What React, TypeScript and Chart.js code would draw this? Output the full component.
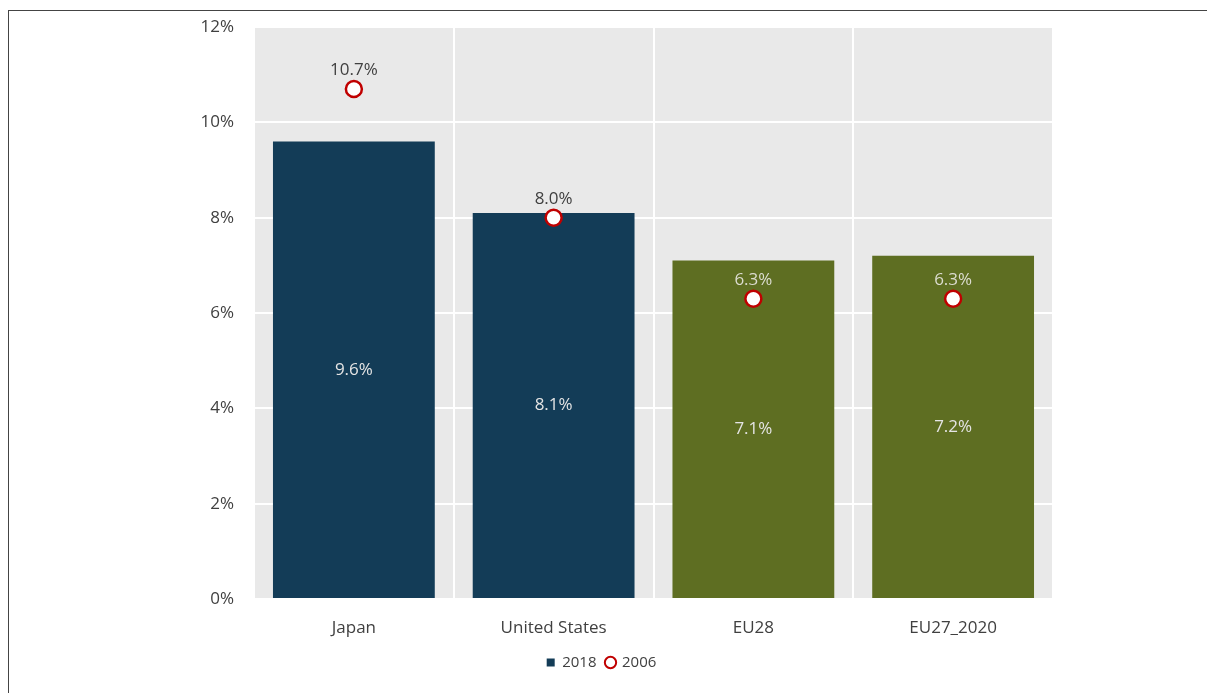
import React, { useEffect, useRef } from "react";
import { Chart, registerables } from "chart.js";

Chart.register(...registerables);

const categories = ["Japan", "United States", "EU28", "EU27_2020"];
const values2018 = [9.6, 8.1, 7.1, 7.2];
const values2006 = [10.7, 8.0, 6.3, 6.3];
const barColors = ["#133c57", "#133c57", "#5e6e22", "#5e6e22"];
const pointLabelColors = ["#404040", "#404040", "#dcdcd0", "#dcdcd0"];
const yTicks = [0, 2, 4, 6, 8, 10, 12];

const FONT = "'Open Sans', 'Noto Sans', sans-serif";

const bgPlugin = {
  id: "plotBg",
  beforeDraw(chart: any) {
    const { ctx, chartArea } = chart;
    ctx.save();
    ctx.fillStyle = "#e9e9e9";
    ctx.fillRect(chartArea.left, chartArea.top, chartArea.right - chartArea.left, chartArea.bottom - chartArea.top);
    ctx.restore();
  },
};

const labelPlugin = {
  id: "valueLabels",
  afterDatasetsDraw(chart: any) {
    const { ctx } = chart;
    ctx.save();
    ctx.font = `17px ${FONT}`;
    ctx.textAlign = "center";
    ctx.textBaseline = "middle";
    const barMeta = chart.getDatasetMeta(0);
    barMeta.data.forEach((el: any, i: number) => {
      const y = (el.y + el.base) / 2;
      ctx.fillStyle = "#e4e4e4";
      ctx.fillText(values2018[i].toFixed(1) + "%", el.x, y);
    });
    const ptMeta = chart.getDatasetMeta(1);
    ptMeta.data.forEach((el: any, i: number) => {
      ctx.fillStyle = pointLabelColors[i];
      ctx.fillText(values2006[i].toFixed(1) + "%", el.x, el.y - 19);
    });
    ctx.restore();
  },
};

export default function App() {
  const ref = useRef<HTMLCanvasElement | null>(null);
  useEffect(() => {
    if (!ref.current) return;
    const chart = new Chart(ref.current, {
      type: "bar",
      data: {
        labels: categories,
        datasets: [
          {
            type: "bar",
            label: "2018",
            data: values2018,
            backgroundColor: barColors,
            borderColor: barColors,
            borderWidth: 0,
            barPercentage: 0.81,
            categoryPercentage: 1,
            order: 1,
          } as any,
          {
            type: "line",
            label: "2006",
            data: values2006,
            showLine: false,
            pointRadius: 8,
            pointHoverRadius: 8,
            pointBorderWidth: 2.5,
            pointBackgroundColor: "#ffffff",
            pointBorderColor: "#c00000",
            order: 0,
          } as any,
        ],
      },
      options: {
        responsive: false,
        animation: false,
        devicePixelRatio: 1,
        layout: { padding: { left: 150, right: 154, top: 27, bottom: 13 } },
        plugins: {
          tooltip: { enabled: false },
          legend: {
            position: "bottom",
            labels: {
              color: "#404040",
              font: { size: 15, family: FONT },
              usePointStyle: true,
              boxWidth: 8,
              boxHeight: 8,
              padding: 10,
              generateLabels: () => [
                {
                  text: "2018",
                  fillStyle: "#133c57",
                  strokeStyle: "#133c57",
                  lineWidth: 0,
                  pointStyle: "rect",
                  datasetIndex: 0,
                  fontColor: "#404040",
                },
                {
                  text: "2006",
                  fillStyle: "#ffffff",
                  strokeStyle: "#c00000",
                  lineWidth: 2,
                  pointStyle: "circle",
                  datasetIndex: 1,
                  fontColor: "#404040",
                },
              ] as any,
            },
          },
        },
        scales: {
          x: {
            grid: { color: "#ffffff", lineWidth: 2, drawTicks: false, offset: true },
            border: { display: false },
            afterFit: (scale: any) => {
              scale.height = 46;
              scale.paddingLeft = 0;
              scale.paddingRight = 0;
            },
            ticks: { color: "#404040", font: { size: 17, family: FONT }, padding: 19 },
          },
          y: {
            min: 0,
            max: 12,
            afterBuildTicks: (scale: any) => {
              scale.ticks = yTicks.map((v) => ({ value: v }));
            },
            afterFit: (scale: any) => {
              scale.width = 104;
              scale.paddingTop = 0;
              scale.paddingBottom = 0;
            },
            grid: { color: "#ffffff", lineWidth: 2, drawTicks: false },
            border: { display: false },
            ticks: {
              color: "#404040",
              font: { size: 17, family: FONT },
              padding: 20,
              callback: (v: any) => v + "%",
            },
          },
        },
      },
      plugins: [bgPlugin, labelPlugin],
    });
    return () => chart.destroy();
  }, []);

  return (
    <div style={{ position: "fixed", left: 0, top: 0, width: 1207, height: 693, overflow: "hidden", background: "#fff" }}>
      <div
        style={{
          position: "absolute",
          left: 8,
          top: 10,
          width: 1207,
          height: 700,
          borderTop: "1.5px solid #444",
          borderLeft: "1.5px solid #444",
        }}
      />
      <canvas ref={ref} width={1207} height={693} style={{ position: "absolute", left: 0, top: 0 }} />
    </div>
  );
}
